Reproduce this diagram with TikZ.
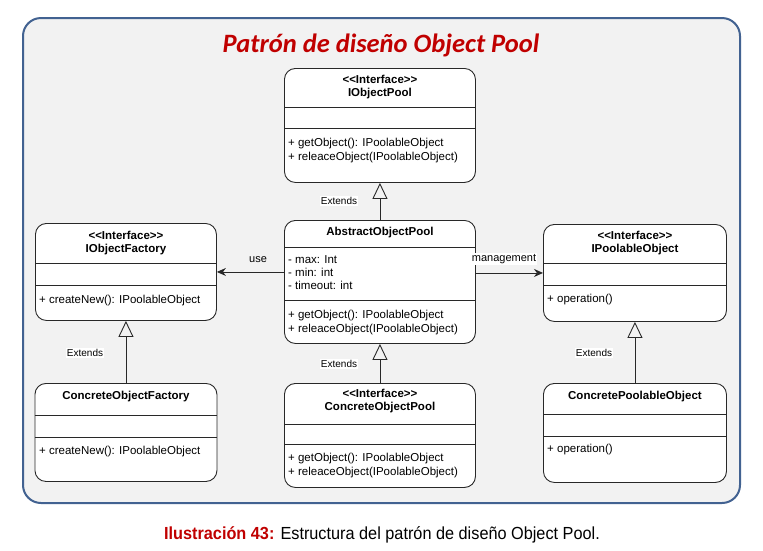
\documentclass[tikz,border=0pt]{standalone}
\usepackage{fontspec}
\setmainfont{Liberation Sans}
\newfontfamily\titlefont{Carlito}
\newfontfamily\capfont[FakeStretch=0.93]{Liberation Sans}
\usetikzlibrary{arrows.meta}
\definecolor{titlered}{RGB}{192,0,0}
\definecolor{framegray}{RGB}{242,242,242}
\definecolor{frameblue}{RGB}{66,98,145}
\definecolor{umlline}{RGB}{40,40,40}
\tikzset{
  umlbox/.style={draw=umlline,fill=white,rounded corners=11pt,line width=0.9pt,anchor=north west,inner sep=0pt},
  cpt/.style={draw=umlline,line width=0.9pt},
  cls/.style={inner sep=0pt,align=center,font=\fontsize{11.5}{13}\selectfont\bfseries},
  memb/.style={inner sep=0pt,anchor=west,align=left,font=\fontsize{11.5}{13.2}\selectfont},
  ext/.style={-{Triangle[open,length=16pt,width=15pt]},draw=umlline,line width=0.9pt},
  assoc/.style={-{Stealth[length=9pt,width=8pt]},draw=umlline,line width=0.9pt},
  lbl/.style={fill=white,inner sep=1pt,font=\fontsize{10}{12}\selectfont},
}
\begin{document}
\begin{tikzpicture}[x=1pt,y=-1pt]
\useasboundingbox (0,0) rectangle (763,550);
\draw[frameblue,fill=framegray,line width=2pt,rounded corners=18pt] (23,18) rectangle (740,503);
\node[font=\titlefont\fontsize{26.5}{30}\selectfont\bfseries\itshape,text=titlered] (title) at (381,45) {Patrón de diseño Object Pool};

\node[umlbox,minimum width=191pt,minimum height=114pt] (iop) at (284,68) {};
\draw[cpt] (iop.west |- 0,107) -- (iop.east |- 0,107) (iop.west |- 0,128) -- (iop.east |- 0,128);
\node[cls] (iop-t) at (iop.north |- 0,87.5) {<\kern0pt<Interface>\kern0pt>\\IObjectPool};
\node[memb] (iop-m) at (288,150.5) {+ getObject(): IPoolableObject\\+ releaceObject(IPoolableObject)};

\node[umlbox,minimum width=191pt,minimum height=123pt] (aop) at (284,220) {};
\draw[cpt] (aop.west |- 0,247) -- (aop.east |- 0,247) (aop.west |- 0,300) -- (aop.east |- 0,300);
\node[cls] (aop-t) at (aop.north |- 0,233) {AbstractObjectPool};
\node[memb] (aop-a) at (288,272.5) {- max: Int\\- min: int\\- timeout: int};
\node[memb] (aop-m) at (288,322.5) {+ getObject(): IPoolableObject\\+ releaceObject(IPoolableObject)};

\node[umlbox,minimum width=181pt,minimum height=97pt] (iof) at (35,223) {};
\draw[cpt] (iof.west |- 0,263) -- (iof.east |- 0,263) (iof.west |- 0,285) -- (iof.east |- 0,285);
\node[cls] (iof-t) at (iof.north |- 0,243) {<\kern0pt<Interface>\kern0pt>\\IObjectFactory};
\node[memb] (iof-m) at (39,301) {+ createNew(): IPoolableObject};

\node[umlbox,minimum width=183pt,minimum height=97pt] (ipo) at (543,224) {};
\draw[cpt] (ipo.west |- 0,263) -- (ipo.east |- 0,263) (ipo.west |- 0,285) -- (ipo.east |- 0,285);
\node[cls] (ipo-t) at (ipo.north |- 0,243) {<\kern0pt<Interface>\kern0pt>\\IPoolableObject};
\node[memb] (ipo-m) at (547,300) {+ operation()};

\node[umlbox,minimum width=182pt,minimum height=98pt] (cof) at (34.5,383) {};
\draw[cpt] (cof.west |- 0,415) -- (cof.east |- 0,415) (cof.west |- 0,437) -- (cof.east |- 0,437);
\node[cls] (cof-t) at (cof.north |- 0,397) {ConcreteObjectFactory};
\node[memb] (cof-m) at (39,452) {+ createNew(): IPoolableObject};

\node[umlbox,minimum width=191pt,minimum height=104pt] (cop) at (284,383) {};
\draw[cpt] (cop.west |- 0,424) -- (cop.east |- 0,424) (cop.west |- 0,444) -- (cop.east |- 0,444);
\node[cls] (cop-t) at (cop.north |- 0,401.5) {<\kern0pt<Interface>\kern0pt>\\ConcreteObjectPool};
\node[memb] (cop-m) at (288,465.5) {+ getObject(): IPoolableObject\\+ releaceObject(IPoolableObject)};

\node[umlbox,minimum width=183pt,minimum height=99pt] (cpo) at (543,383) {};
\draw[cpt] (cpo.west |- 0,414) -- (cpo.east |- 0,414) (cpo.west |- 0,436) -- (cpo.east |- 0,436);
\node[cls] (cpo-t) at (cpo.north |- 0,397) {ConcretePoolableObject};
\node[memb] (cpo-m) at (547,450) {+ operation()};

\draw[ext] (aop) -- (iop);
\draw[ext] (cop) -- (aop);
\draw[ext] (cof) -- (iof);
\draw[ext] (cpo) -- (ipo);
\draw[assoc] (aop.west |- iof.east) -- (iof.east);
\draw[assoc] (aop.east |- ipo.west) -- (ipo.west);

\node[lbl] (ext1) at (339,201) {Extends};
\node[lbl] (ext2) at (339,364) {Extends};
\node[lbl] (ext3) at (85,353) {Extends};
\node[lbl] (ext4) at (594,353) {Extends};
\node[inner sep=1pt,font=\fontsize{11}{13}\selectfont] (use) at (258,260) {use};
\node[lbl,font=\fontsize{11}{13}\selectfont] (mgmt) at (504,259) {management};

\node[font=\capfont\fontsize{17.5}{20}\selectfont] (caption) at (382,535) {\textcolor{titlered}{\bfseries Ilustración 43:} Estructura del patrón de diseño Object Pool.};
\end{tikzpicture}
\end{document}
